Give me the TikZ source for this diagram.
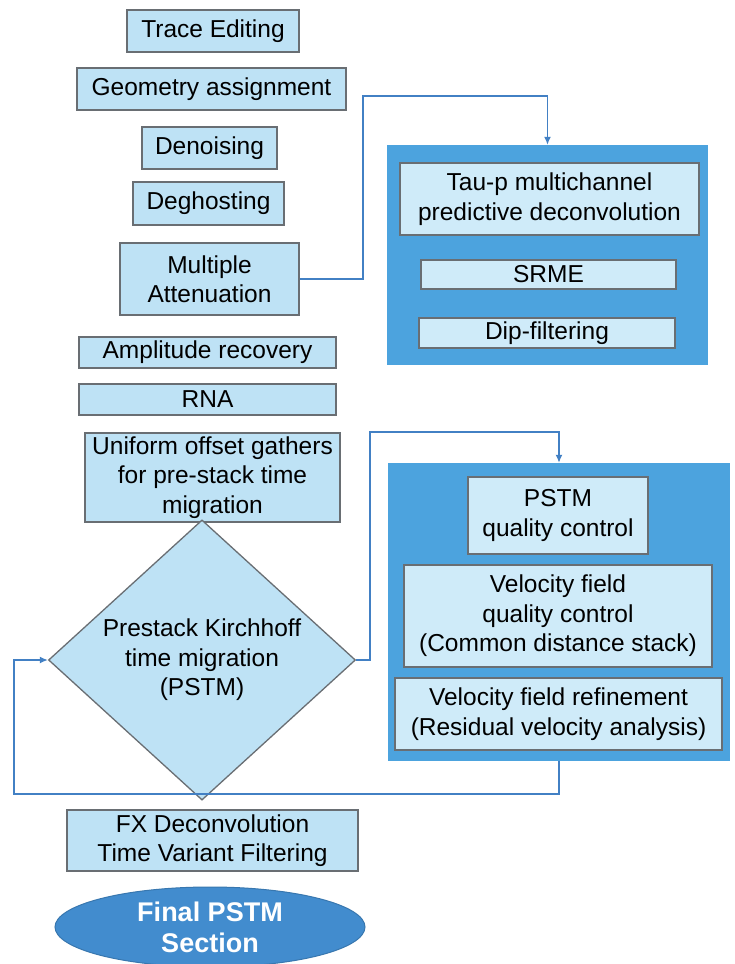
\documentclass[tikz,border=0pt]{standalone}
\usepackage{fontspec}
\setmainfont{Liberation Sans}
\usetikzlibrary{shapes.geometric,arrows.meta}
\definecolor{boxfill}{RGB}{190,226,245}
\definecolor{innerfill}{RGB}{207,235,249}
\definecolor{panelblue}{RGB}{76,163,222}
\definecolor{ovalblue}{RGB}{66,140,206}
\definecolor{linkblue}{RGB}{66,128,196}
\definecolor{edgegray}{RGB}{105,110,115}

\begin{document}
\begin{tikzpicture}[x=1pt,y=-1pt,
  pbox/.style={draw=edgegray,line width=1.3pt,fill=boxfill,inner sep=0pt,align=center,font=\fontsize{24.5}{29.5}\selectfont},
  ibox/.style={pbox,fill=innerfill},
  panel/.style={fill=panelblue,inner sep=0pt},
  link/.style={draw=linkblue,line width=1.4pt,-{Latex[length=8pt,width=7pt]}}]
\useasboundingbox[fill=white] (0,0) rectangle (735,964);

\node[pbox,minimum width=172,minimum height=42] (trace) at (213,31) {Trace Editing};
\node[pbox,minimum width=269,minimum height=42] (geom) at (211.5,89) {Geometry assignment};
\node[pbox,minimum width=135,minimum height=42] (denoise) at (209.5,148) {Denoising};
\node[pbox,minimum width=151,minimum height=43] (deghost) at (208.5,203.5) {Deghosting};
\node[pbox,minimum width=179,minimum height=72] (multiple) at (209.5,279) {Multiple\\Attenuation};
\node[pbox,minimum width=257,minimum height=31] (amp) at (207.5,352.5) {Amplitude recovery};
\node[pbox,minimum width=257,minimum height=31] (rna) at (207.5,399.5) {RNA};
\node[pbox,minimum width=255,minimum height=89] (uniform) at (212.5,477.5) {Uniform offset gathers\\for pre-stack time\\migration};
\node[pbox,diamond,minimum width=307,minimum height=257] (pstm) at (202,660) {Prestack Kirchhoff\\time migration\\(PSTM)};
\node[pbox,minimum width=291,minimum height=61] (fx) at (212.5,840.5) {FX Deconvolution\\Time Variant Filtering};
\node[ellipse,fill=ovalblue,draw=ovalblue!85!black,line width=1pt,minimum width=310,minimum height=80,inner sep=0pt,
  text=white,align=center,font=\fontsize{27}{31}\selectfont\bfseries] (final) at (210,927) {Final PSTM\\Section};

\node[panel,minimum width=321,minimum height=220] (multpanel) at (547.5,255) {};
\node[ibox,minimum width=299,minimum height=72] (taup) at (549.5,199) {Tau-p multichannel\\predictive deconvolution};
\node[ibox,minimum width=255,minimum height=29] (srme) at (548.5,274.5) {SRME};
\node[ibox,minimum width=256,minimum height=30] (dip) at (547,333) {Dip-filtering};

\node[panel,minimum width=342,minimum height=298] (qcpanel) at (559,612) {};
\node[ibox,minimum width=180,minimum height=77] (pstmqc) at (558,515.5) {PSTM\\quality control};
\node[ibox,minimum width=308,minimum height=102] (velqc) at (558,616) {Velocity field\\quality control\\(Common distance stack)};
\node[ibox,minimum width=327,minimum height=72] (velref) at (558.5,714) {Velocity field refinement\\(Residual velocity analysis)};

\coordinate (m1) at (363,96);
\coordinate (m2) at (370,432);
\coordinate (m3) at (14,794);
\draw[link] (multiple.east) -| (m1) -| (multpanel.north);
\draw[link] (pstm.east) -| (m2) -| (qcpanel.north);
\draw[link] (qcpanel.south) |- (m3) |- (pstm.west);
\end{tikzpicture}
\end{document}
